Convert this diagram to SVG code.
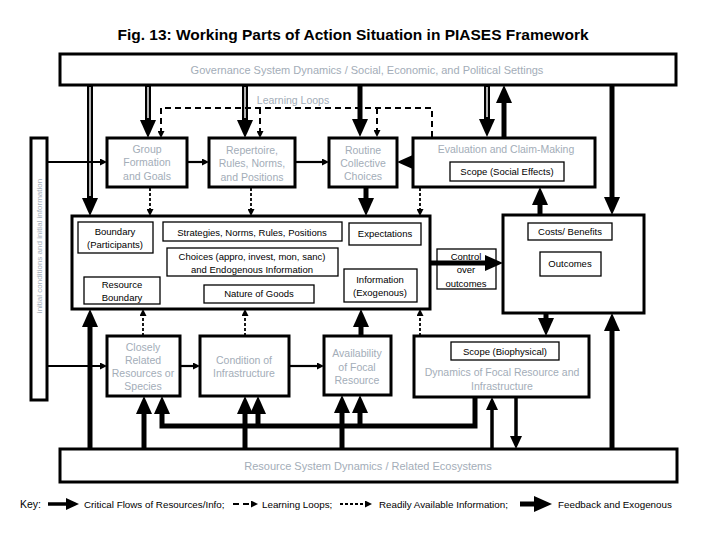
<svg xmlns="http://www.w3.org/2000/svg" width="720" height="540" viewBox="0 0 720 540">
<defs>
<marker id="big" markerUnits="userSpaceOnUse" markerWidth="18" markerHeight="16" refX="6" refY="8" orient="auto"><path d="M0,0 L18,8 L0,16 z" fill="#000"/></marker>
<marker id="med" markerUnits="userSpaceOnUse" markerWidth="13" markerHeight="12" refX="4" refY="6" orient="auto"><path d="M0,0 L13,6 L0,12 z" fill="#000"/></marker>
<marker id="sm" markerUnits="userSpaceOnUse" markerWidth="7" markerHeight="7" refX="3" refY="3.5" orient="auto"><path d="M0,0 L7,3.5 L0,7 z" fill="#000"/></marker>
</defs>
<style>
.box{fill:#fff;stroke:#000;stroke-width:3}
.in{fill:#fff;stroke:#000;stroke-width:1.3}
.g{font-family:"Liberation Sans",Arial,sans-serif;font-size:10.5px;fill:#a3adb8;text-anchor:middle}
.b{font-family:"Liberation Sans",Arial,sans-serif;font-size:9.5px;fill:#000;text-anchor:middle}
.k{font-family:"Liberation Sans",Arial,sans-serif;font-size:9.8px;fill:#000}
.thick{stroke:#000;stroke-width:5;fill:none}
.dbl{stroke:#000;stroke-width:6;fill:none}
.wht{stroke:#fff;stroke-width:1.4;fill:none}
.thin{stroke:#000;stroke-width:2.2;fill:none}
.mid{stroke:#000;stroke-width:3.5;fill:none}
.dash{stroke:#000;stroke-width:2;fill:none;stroke-dasharray:6 4}
.dot{stroke:#000;stroke-width:1.8;fill:none;stroke-dasharray:3 2}
</style>
<rect width="720" height="540" fill="#fff"/>
<text x="353" y="40" font-family="Liberation Sans,Arial,sans-serif" font-size="15.5" font-weight="bold" text-anchor="middle">Fig. 13: Working Parts of Action Situation in PIASES Framework</text>

<g id="connectors">
<line class="dbl" x1="90" y1="85" x2="90" y2="204" marker-end="url(#big)"/>
<line class="wht" x1="90" y1="87" x2="90" y2="196"/>
<line class="dbl" x1="148" y1="85" x2="148" y2="126" marker-end="url(#big)"/>
<line class="wht" x1="148" y1="87" x2="148" y2="118"/>
<line class="dbl" x1="245" y1="85" x2="245" y2="126" marker-end="url(#big)"/>
<line class="wht" x1="245" y1="87" x2="245" y2="118"/>
<line class="thick" x1="360" y1="85" x2="360" y2="125" marker-end="url(#big)"/>
<line class="dbl" x1="487" y1="85" x2="487" y2="125" marker-end="url(#big)"/>
<line class="wht" x1="487" y1="87" x2="487" y2="117"/>
<line class="thick" x1="504" y1="137" x2="504" y2="97" marker-end="url(#big)"/>
<line class="thick" x1="612" y1="85" x2="612" y2="203" marker-end="url(#big)"/>
<path class="dash" d="M432,137 V108 H161 V134" marker-end="url(#sm)"/>
<line class="dash" x1="260" y1="108" x2="260" y2="134" marker-end="url(#sm)"/>
<line class="dash" x1="377" y1="108" x2="377" y2="133" marker-end="url(#sm)"/>
<text class="g" x="293" y="104">Learning Loops</text>
<line class="thin" x1="47" y1="162" x2="103" y2="162" marker-end="url(#sm)"/>
<line class="thin" x1="187" y1="162" x2="205" y2="162" marker-end="url(#sm)"/>
<line class="thin" x1="295" y1="162" x2="325" y2="162" marker-end="url(#sm)"/>
<line class="thick" x1="413" y1="162" x2="409" y2="162" marker-end="url(#big)"/>
<line class="dot" x1="150" y1="188" x2="150" y2="212" marker-end="url(#sm)"/>
<line class="dot" x1="251" y1="188" x2="251" y2="212" marker-end="url(#sm)"/>
<line class="thick" x1="366" y1="188" x2="366" y2="204" marker-end="url(#big)"/>
<line class="dot" x1="420" y1="188" x2="420" y2="212" marker-end="url(#sm)"/>
<line class="thick" x1="540" y1="215" x2="540" y2="199" marker-end="url(#big)"/>
<line class="thick" x1="430" y1="263" x2="491" y2="263" marker-end="url(#big)"/>
<line class="thick" x1="546" y1="313" x2="546" y2="324" marker-end="url(#big)"/>
<line class="thick" x1="612" y1="449" x2="612" y2="325" marker-end="url(#big)"/>
<line class="dot" x1="420" y1="336" x2="420" y2="313" marker-end="url(#sm)"/>
<line class="thick" x1="361" y1="336" x2="361" y2="321" marker-end="url(#big)"/>
<line class="dot" x1="245" y1="336" x2="245" y2="313" marker-end="url(#sm)"/>
<line class="dot" x1="143" y1="336" x2="143" y2="313" marker-end="url(#sm)"/>
<line class="thick" x1="90" y1="449" x2="90" y2="321" marker-end="url(#big)"/>
<line class="thin" x1="47" y1="366" x2="103" y2="366" marker-end="url(#sm)"/>
<line class="thin" x1="180" y1="366" x2="196" y2="366" marker-end="url(#sm)"/>
<line class="thin" x1="289" y1="366" x2="320" y2="366" marker-end="url(#sm)"/>
<line class="thick" x1="144" y1="449" x2="144" y2="408" marker-end="url(#big)"/>
<line class="thick" x1="245" y1="449" x2="245" y2="408" marker-end="url(#big)"/>
<line class="thick" x1="342" y1="449" x2="342" y2="407" marker-end="url(#big)"/>
<path class="thick" d="M475,397 V426 H162 V408" marker-end="url(#big)"/>
<line class="thick" x1="258" y1="426" x2="258" y2="408" marker-end="url(#big)"/>
<line class="thick" x1="360" y1="426" x2="360" y2="407" marker-end="url(#big)"/>
<line class="mid" x1="492" y1="449" x2="492" y2="406" marker-end="url(#med)"/>
<line class="mid" x1="516" y1="397" x2="516" y2="440" marker-end="url(#med)"/>
</g>

<g id="governance"><rect class="box" x="60" y="54" width="616" height="31"/><text class="g" x="367" y="74" style="font-size:11px">Governance System Dynamics / Social, Economic, and Political Settings</text></g>
<g id="initial"><rect class="box" x="31" y="138" width="16" height="262"/><text class="g" style="font-size:8px" transform="translate(42,246) rotate(-90)">initial conditions and initial information</text></g>
<g id="group-formation"><rect class="box" x="107" y="138" width="80" height="49"/><text class="g" x="147" y="153">Group</text><text class="g" x="147" y="166">Formation</text><text class="g" x="147" y="180">and Goals</text></g>
<g id="repertoire"><rect class="box" x="209" y="138" width="86" height="49"/><text class="g" x="252" y="154">Repertoire,</text><text class="g" x="252" y="167">Rules, Norms,</text><text class="g" x="252" y="181">and Positions</text></g>
<g id="routine"><rect class="box" x="329" y="138" width="68" height="49"/><text class="g" x="363" y="154">Routine</text><text class="g" x="363" y="167">Collective</text><text class="g" x="363" y="180">Choices</text></g>
<g id="evaluation"><rect class="box" x="413" y="138" width="182" height="49"/><text class="g" x="506" y="153">Evaluation and Claim-Making</text><rect class="in" x="450" y="162" width="114" height="19"/><text class="b" x="507" y="175">Scope (Social Effects)</text></g>

<g id="action-situation"><rect class="box" x="72" y="216" width="358" height="93"/>
<rect class="in" x="78" y="222" width="75" height="31"/><text class="b" x="115" y="235">Boundary</text><text class="b" x="115" y="248">(Participants)</text>
<rect class="in" x="163" y="222" width="179" height="19"/><text class="b" x="252" y="236">Strategies, Norms, Rules, Positions</text>
<rect class="in" x="349" y="223" width="72" height="22"/><text class="b" x="385" y="237">Expectations</text>
<rect class="in" x="167" y="248" width="171" height="28"/><text class="b" x="252" y="260">Choices  (appro, invest, mon, sanc)</text><text class="b" x="252" y="273">and Endogenous Information</text>
<rect class="in" x="84" y="277" width="76" height="27"/><text class="b" x="122" y="288">Resource</text><text class="b" x="122" y="301">Boundary</text>
<rect class="in" x="204" y="285" width="110" height="18"/><text class="b" x="259" y="297">Nature of Goods</text>
<rect class="in" x="344" y="269" width="73" height="33"/><text class="b" x="380" y="283">Information</text><text class="b" x="380" y="296">(Exogenous)</text>
</g>

<g id="control"><rect class="in" x="437" y="249" width="59" height="40" fill-opacity="0"/><text class="b" x="466" y="260">Control</text><text class="b" x="466" y="273">over</text><text class="b" x="466" y="287">outcomes</text></g>
<g id="outcomes"><rect class="box" x="503" y="215" width="141" height="98"/><rect class="in" x="528" y="223" width="84" height="17"/><text class="b" x="570" y="235">Costs/ Benefits</text><rect class="in" x="540" y="252" width="61" height="24"/><text class="b" x="570" y="267">Outcomes</text></g>

<g id="closely-related"><rect class="box" x="107" y="336" width="73" height="60"/><text class="g" x="143" y="351">Closely</text><text class="g" x="143" y="364">Related</text><text class="g" x="143" y="377">Resources or</text><text class="g" x="143" y="390">Species</text></g>
<g id="condition"><rect class="box" x="200" y="336" width="89" height="60"/><text class="g" x="244" y="364">Condition of</text><text class="g" x="244" y="377">Infrastructure</text></g>
<g id="availability"><rect class="box" x="324" y="336" width="67" height="59"/><text class="g" x="357" y="357">Availability</text><text class="g" x="357" y="371">of Focal</text><text class="g" x="357" y="384">Resource</text></g>
<g id="dynamics"><rect class="box" x="414" y="336" width="175" height="61"/><rect class="in" x="451" y="342" width="108" height="18"/><text class="b" x="505" y="355">Scope (Biophysical)</text><text class="g" x="502" y="376">Dynamics of Focal Resource and</text><text class="g" x="502" y="390">Infrastructure</text></g>
<g id="resource-system"><rect class="box" x="60" y="449" width="617" height="33"/><text class="g" x="368" y="470" style="font-size:11px">Resource System Dynamics / Related Ecosystems</text></g>

<g id="key">
<text class="k" x="20" y="508" style="font-size:10.5px">Key:</text>
<line class="mid" x1="48" y1="504" x2="70" y2="504" marker-end="url(#med)"/>
<text class="k" x="84" y="508">Critical Flows of Resources/Info;</text>
<line class="dash" x1="233" y1="504" x2="254" y2="504" marker-end="url(#sm)"/>
<text class="k" x="262" y="508">Learning Loops;</text>
<line class="dot" x1="340" y1="504" x2="368" y2="504" marker-end="url(#sm)"/>
<text class="k" x="379" y="508">Readily Available Information;</text>
<line class="thick" x1="520" y1="504" x2="540" y2="504" marker-end="url(#big)"/>
<text class="k" x="558" y="508">Feedback and Exogenous</text>
</g>
</svg>
